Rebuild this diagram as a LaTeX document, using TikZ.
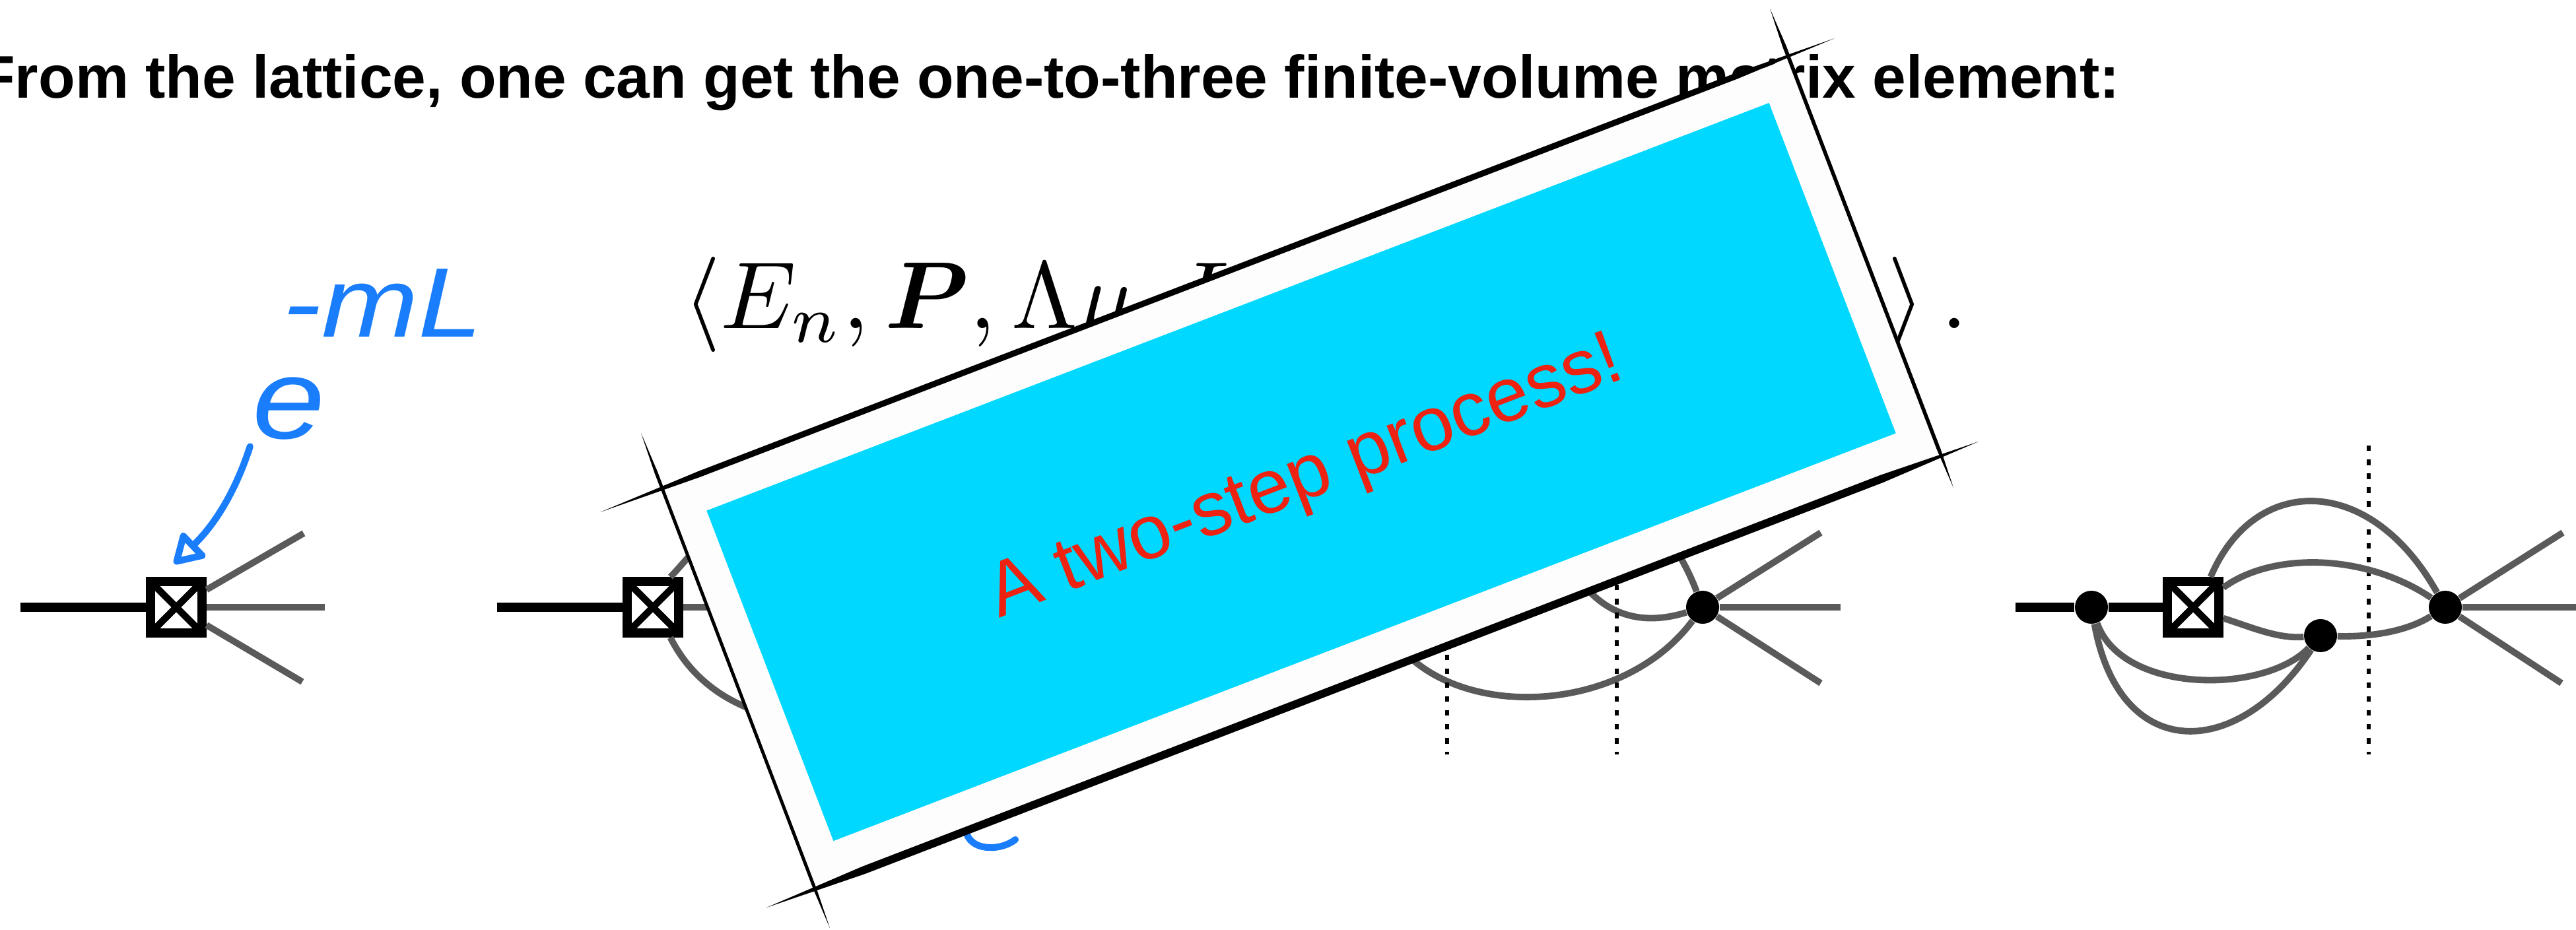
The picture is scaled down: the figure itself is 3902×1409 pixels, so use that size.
\documentclass[tikz,border=0pt]{standalone}
\usepackage{amsmath}
\usepackage[no-math]{fontspec}
\newfontfamily\arialfont{Liberation Sans}
\usetikzlibrary{calc,arrows.meta}
\definecolor{legray}{HTML}{5A5A5A}
\definecolor{inkblue}{HTML}{1A7DFB}
\definecolor{panelcyan}{HTML}{00D8FF}
\definecolor{panelwhite}{HTML}{FDFDFD}
\definecolor{bannerred}{HTML}{EE2210}
\tikzset{
  crossbox/.style={draw,line width=3.9pt,fill=white,minimum size=0.78cm,inner sep=0pt,
    path picture={\draw[line width=3pt]
      (path picture bounding box.north west) -- (path picture bounding box.south east)
      (path picture bounding box.north east) -- (path picture bounding box.south west);}},
  blob/.style={circle,fill=black,minimum size=0.5cm,inner sep=0pt},
  inleg/.style={line width=4.1pt},
  outleg/.style={line width=2.8pt,draw=legray},
  cutline/.style={line width=1.9pt,dash pattern=on 2.4pt off 3.6pt},
  inkstroke/.style={line width=2.9pt,draw=inkblue,line cap=round,line join=round},
}
\begin{document}
\begin{tikzpicture}[x=0.01cm,y=-0.01cm]
\useasboundingbox (0,0) rectangle (3902,1409);

% heading and formula
\node[anchor=base east,inner sep=0pt] (heading) at (3212,148)
  {\arialfont\bfseries\fontsize{25.9}{30}\selectfont From the lattice, one can get the one-to-three finite-volume matrix element:};
\node[anchor=base west,inner sep=0pt,scale=4.1] (braleft) at (1033,497) {$\langle E_n,\boldsymbol{P},\Lambda\mu,L$};
\node[anchor=base east,inner sep=0pt,scale=4.1] (ketright) at (2983,497) {$\rangle\,.$};

% no rescattering
\node[crossbox] (boxa) at (267,920) {};
\coordinate (ina) at (31,920);
\coordinate (outaup) at (460,808);
\coordinate (outamid) at (492,920);
\coordinate (outadown) at (458,1033);
\draw[inleg] (ina) -- (boxa);
\draw[outleg] (boxa) -- (outaup);
\draw[outleg] (boxa) -- (outamid);
\draw[outleg] (boxa) -- (outadown);

% hand written note
\node[anchor=base west,inner sep=0pt,inkblue,xscale=1.15] (expbase) at (382,664)
  {\arialfont\itshape\fontsize{49}{50}\selectfont e};
\node[anchor=base west,inner sep=0pt,inkblue,xscale=1.35,yscale=1.15] (exptop) at (428,510)
  {\arialfont\itshape\fontsize{37}{40}\selectfont -mL};
\coordinate (inktip) at (264,854);
\draw[inkstroke,-{Triangle[open,round,length=14pt,width=16pt]},shorten <=3pt]
  (expbase.south west) .. controls (355,750) and (322,798) .. (inktip);

% second graph, mostly behind the panel
\node[crossbox] (boxb) at (989,920) {};
\coordinate (inb) at (753,920);
\coordinate (hidbup) at (1100,790);
\coordinate (hidbmid) at (1150,920);
\coordinate (hidbdown) at (1160,1082);
\draw[inleg] (inb) -- (boxb);
\draw[outleg] (boxb.60) .. controls (1030,860) and (1060,820) .. (hidbup);
\draw[outleg] (boxb) -- (hidbmid);
\draw[outleg] (boxb.-60) .. controls (1040,1015) and (1085,1060) .. (hidbdown);
\coordinate (markstart) at (1463,1258);
\coordinate (markend) at (1538,1272);
\draw[inkstroke] (markstart) .. controls (1468,1290) and (1515,1290) .. (markend);

% third graph
\node[blob] (dotc) at (2579,920) {};
\coordinate (hidcup) at (2518,800);
\coordinate (hidcmid) at (2375,850);
\coordinate (hidcdown) at (2100,950);
\coordinate (outcup) at (2758,807);
\coordinate (outcmid) at (2788,920);
\coordinate (outcdown) at (2758,1035);
\draw[outleg] (dotc) .. controls (2560,870) and (2545,840) .. (hidcup);
\draw[outleg] (dotc) .. controls (2500,945) and (2425,945) .. (hidcmid);
\draw[outleg] (dotc) .. controls (2450,1093) and (2175,1093) .. (hidcdown);
\draw[outleg] (dotc) -- (outcup);
\draw[outleg] (dotc) -- (outcmid);
\draw[outleg] (dotc) -- (outcdown);
\foreach \x/\name in {2192/cutc,2449/cutd} {
  \coordinate (\name top) at (\x,675);
  \coordinate (\name bottom) at (\x,1143);
  \draw[cutline] (\name top) -- (\name bottom);
}

% last graph
\coordinate (ind) at (3053,920);
\node[blob] (dotd) at (3168,920) {};
\node[crossbox] (boxd) at (3322,920) {};
\node[blob] (dote) at (3515,963) {};
\node[blob] (dotf) at (3704,920) {};
\coordinate (outdup) at (3882,807);
\coordinate (outdmid) at (3902,920);
\coordinate (outddown) at (3880,1035);
\coordinate (cuttop) at (3588,675);
\coordinate (cutbottom) at (3588,1143);
\draw[cutline] (cuttop) -- (cutbottom);
\draw[inleg] (ind) -- (dotd);
\draw[inleg] (dotd) -- (boxd);
\draw[outleg] (boxd.60) .. controls (3415,717) and (3590,717) .. (dotf);
\draw[outleg] (boxd.33) .. controls (3440,837) and (3580,837) .. (dotf);
\draw[outleg] (boxd.-20) .. controls (3410,950) and (3450,968) .. (dote);
\draw[outleg] (dote) .. controls (3580,965) and (3640,960) .. (dotf);
\draw[outleg] (dotd) .. controls (3215,1052) and (3430,1052) .. (dote);
\draw[outleg] (dotd) .. controls (3210,1155) and (3387,1155) .. (dote);
\draw[outleg] (dotf) -- (outdup);
\draw[outleg] (dotf) -- (outdmid);
\draw[outleg] (dotf) -- (outddown);

% panel over everything
\node[fill=panelcyan,draw=panelwhite,line width=14.8pt,minimum width=17.75cm,minimum height=5.88cm,
  rotate=21,inner sep=0pt] (panel) at (1971,715) {};
\node[rotate=21,text=bannerred,inner sep=0pt] (banner) at (1979,728)
  {\arialfont\fontsize{33}{36}\selectfont A two-step process!};

% pen strokes round the panel
\coordinate (topa) at (909,776);
\coordinate (topb) at (2779,58);
\coordinate (bota) at (1161,1375);
\coordinate (botb) at (2997,669);
\coordinate (lefta) at (971,656);
\coordinate (leftb) at (1257,1406);
\coordinate (righta) at (2681,13);
\coordinate (rightb) at (2959,739);
\foreach \a/\b/\w in {topa/topb/1.3pt,bota/botb/1.7pt,lefta/leftb/.7pt,righta/rightb/.8pt} {
  \fill (\a) -- ($(\a)!.08!(\b)!\w!90:(\b)$) -- ($(\a)!.92!(\b)!\w!90:(\b)$) -- (\b)
    -- ($(\a)!.92!(\b)!\w!-90:(\b)$) -- ($(\a)!.08!(\b)!\w!-90:(\b)$) -- cycle;
}
\end{tikzpicture}
\end{document}
